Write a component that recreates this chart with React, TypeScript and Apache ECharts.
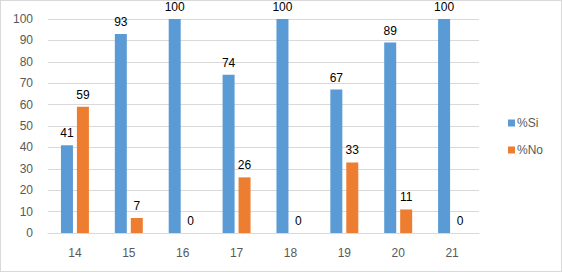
import React, { useEffect, useRef } from "react";
import * as echarts from "echarts";

const categories = ["14", "15", "16", "17", "18", "19", "20", "21"];
const siValues = [41, 93, 100, 74, 100, 67, 89, 100];
const noValues = [59, 7, 0, 26, 0, 33, 11, 0];
const yTicks = { min: 0, max: 100, interval: 10 };

export default function App() {
  const ref = useRef<HTMLDivElement>(null);
  useEffect(() => {
    if (!ref.current) return;
    const chart = echarts.init(ref.current, null, { renderer: "svg" });
    const font = "Liberation Sans, Arial, sans-serif";
    chart.setOption({
      animation: false,
      backgroundColor: "transparent",
      textStyle: { fontFamily: font },
      grid: { left: 48, right: 83, top: 19, bottom: 39 },
      legend: {
        orient: "vertical",
        left: 503,
        top: 112,
        itemWidth: 7,
        itemHeight: 7,
        itemGap: 15,
        icon: "rect",
        textStyle: { color: "#595959", fontSize: 12, fontFamily: font, padding: [0, 0, 0, -3] },
        data: ["%Si", "%No"],
      },
      xAxis: {
        type: "category",
        data: categories,
        axisLine: { show: true, lineStyle: { color: "#d9d9d9" } },
        axisTick: { show: false },
        axisLabel: { color: "#595959", fontSize: 12, margin: 14, fontFamily: font },
      },
      yAxis: {
        type: "value",
        min: yTicks.min,
        max: yTicks.max,
        interval: yTicks.interval,
        axisLine: { show: false },
        axisTick: { show: false },
        splitLine: { lineStyle: { color: "#d9d9d9" } },
        axisLabel: { color: "#595959", fontSize: 12, margin: 15, fontFamily: font },
      },
      series: [
        {
          name: "%Si",
          type: "bar",
          data: siValues,
          barWidth: 12,
          barGap: "33%",
          itemStyle: { color: "#5B9BD5" },
          label: { show: true, position: "top", distance: 6, color: "#000000", fontSize: 12, fontFamily: font },
        },
        {
          name: "%No",
          type: "bar",
          data: noValues,
          barWidth: 12,
          itemStyle: { color: "#ED7D31" },
          label: { show: true, position: "top", distance: 6, color: "#000000", fontSize: 12, fontFamily: font },
        },
      ],
    });
    return () => chart.dispose();
  }, []);
  return (
    <div style={{ position: "fixed", left: 0, top: 0, width: 562, height: 272, boxSizing: "border-box", border: "1px solid #d9d9d9", background: "#fff" }}>
      <div ref={ref} style={{ position: "absolute", left: -1, top: -1, width: 562, height: 272 }} />
    </div>
  );
}
